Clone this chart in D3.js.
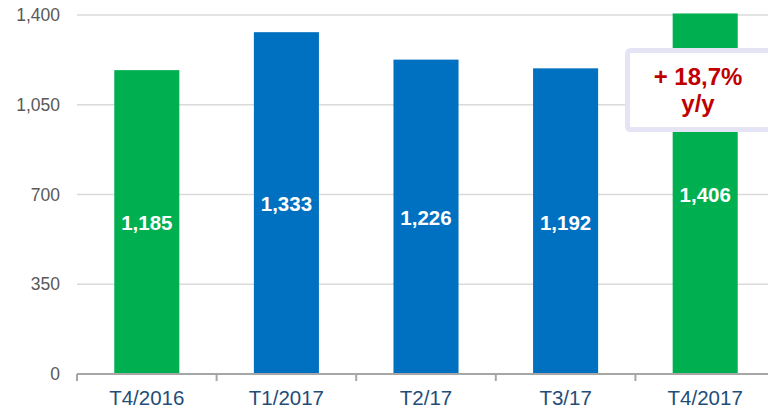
<!DOCTYPE html>
<html>
<head>
<meta charset="utf-8">
<script src="https://cdn.jsdelivr.net/npm/d3@7"></script>
<style>
  body { margin: 0; background: #fff; }
  svg { display: block; font-family: "Liberation Sans", Arial, sans-serif; }
</style>
</head>
<body>
<svg id="chart" width="768" height="409"></svg>
<script>
// chart data
const quarters = ["T4/2016", "T1/2017", "T2/17", "T3/17", "T4/2017"];
const values = [1185, 1333, 1226, 1192, 1406];
const barColors = ["#00b050", "#0070c0", "#0070c0", "#0070c0", "#00b050"];
const yTicks = [0, 350, 700, 1050, 1400];
const noteLines = ["+ 18,7%", "y/y"];

const fmt = d3.format(",");

let margin = {left: 77, top: 15};
let width = 698;   // plot runs a bit past the right edge of the picture
let zeroY = 374;

let svg = d3.select("#chart");

let x = d3.scaleBand()
  .domain(quarters)
  .range([margin.left, margin.left + width])
  .paddingInner(0.534)
  .paddingOuter(0.267);

let y = d3.scaleLinear()
  .domain([0, 1400])
  .range([zeroY, margin.top]);

// gridlines
svg.append("g")
  .selectAll("line")
  .data(yTicks.filter(d => d > 0))
  .enter().append("line")
    .attr("x1", margin.left)
    .attr("x2", 768)
    .attr("y1", d => y(d))
    .attr("y2", d => y(d))
    .attr("stroke", "#dadada")
    .attr("stroke-width", 1.5);

// y labels
svg.append("g")
  .selectAll("text")
  .data(yTicks)
  .enter().append("text")
    .attr("x", 60)
    .attr("y", d => y(d))
    .attr("dy", "0.35em")
    .attr("text-anchor", "end")
    .attr("fill", "#595959")
    .style("font-size", "17.5px")
    .text(d => fmt(d));

// bars
svg.append("g")
  .selectAll("rect")
  .data(values)
  .enter().append("rect")
    .attr("x", (d, i) => x(quarters[i]))
    .attr("y", d => y(d))
    .attr("width", x.bandwidth())
    .attr("height", d => zeroY - y(d))
    .attr("fill", (d, i) => barColors[i]);

// value labels inside bars
svg.append("g")
  .selectAll("text")
  .data(values)
  .enter().append("text")
    .attr("x", (d, i) => x(quarters[i]) + x.bandwidth() / 2)
    .attr("y", d => (y(d) + zeroY) / 2 + 1)
    .attr("dy", "0.36em")
    .attr("text-anchor", "middle")
    .attr("fill", "#ffffff")
    .style("font-size", "20.5px")
    .style("font-weight", "bold")
    .text(d => fmt(d));

// x axis
let step = x.step();
let bounds = d3.range(quarters.length + 1).map(i => margin.left + i * step);
let axis = svg.append("g");
axis.append("line")
  .attr("x1", margin.left)
  .attr("x2", margin.left + width)
  .attr("y1", zeroY)
  .attr("y2", zeroY)
  .attr("stroke", "#a6a6a6")
  .attr("stroke-width", 2);
axis.selectAll(".tick")
  .data(bounds)
  .enter().append("line")
    .attr("x1", d => d)
    .attr("x2", d => d)
    .attr("y1", zeroY)
    .attr("y2", zeroY + 7)
    .attr("stroke", "#a6a6a6")
    .attr("stroke-width", 2);
axis.selectAll("text")
  .data(quarters)
  .enter().append("text")
    .attr("x", d => x(d) + x.bandwidth() / 2)
    .attr("y", 405)
    .attr("text-anchor", "middle")
    .attr("fill", "#1f4e79")
    .style("font-size", "20.5px")
    .text(d => d);

// y/y note box
let note = svg.append("g");
note.append("rect")
  .attr("x", 627.5)
  .attr("y", 50.5)
  .attr("width", 150)
  .attr("height", 79)
  .attr("rx", 3)
  .attr("fill", "#ffffff")
  .attr("stroke", "#e4e4f4")
  .attr("stroke-width", 5);
note.selectAll("text")
  .data(noteLines)
  .enter().append("text")
    .attr("x", 698)
    .attr("y", (d, i) => 85 + i * 27)
    .attr("text-anchor", "middle")
    .attr("fill", "#c00000")
    .style("font-size", "24px")
    .style("font-weight", "bold")
    .text(d => d);
</script>
</body>
</html>
